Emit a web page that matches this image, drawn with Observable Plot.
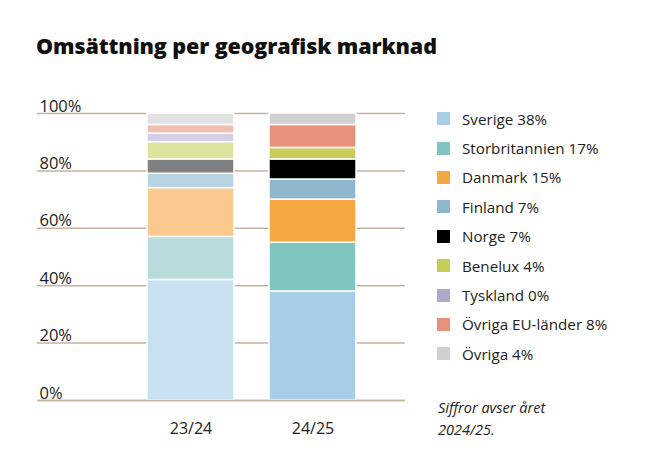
<!DOCTYPE html>
<html><head><meta charset="utf-8">
<script src="https://cdn.jsdelivr.net/npm/d3@7"></script>
<script src="https://cdn.jsdelivr.net/npm/@observablehq/plot@0.6"></script>
<style>
body{margin:0;background:#fff;font-family:"Open Sans",sans-serif;color:#222;}
#wrap{position:relative;width:667px;height:474px;overflow:hidden;}
#title{position:absolute;left:36px;top:31px;font-size:21.5px;font-weight:800;color:#111;letter-spacing:-0.1px;}
#chart{position:absolute;left:0;top:90px;}
#legend{position:absolute;left:437px;top:104px;}
.row{display:flex;align-items:center;height:29.4px;font-size:15.2px;color:#222;}
.sw{width:13px;height:13px;margin-right:12px;}
#note{position:absolute;left:438px;top:397px;font-size:14.5px;font-style:italic;line-height:22px;color:#222;}
</style></head>
<body><div id="wrap">
<div id="title">Omsättning per geografisk marknad</div>
<div id="chart"></div>
<div id="legend"></div>
<div id="note">Siffror avser året<br>2024/25.</div>
</div>
<script>
const years = ["23/24", "24/25"];
const regions = ["Sverige","Storbritannien","Danmark","Finland","Norge","Benelux","Tyskland","Övriga EU-länder","Övriga"];
const share2324 = [42, 15, 17, 5, 5, 6, 3, 3, 4];
const share2425 = [38, 17, 15, 7, 7, 4, 0, 8, 4];
const yTicks = [0, 20, 40, 60, 80, 100];

const colors2425 = ["#a8cde9","#82c5c0","#f5a742","#8db6cf","#000000","#c8cc58","#b3a6cc","#e8917a","#d0d0d0"];
const colors2324 = ["#c9e0f0","#b8dcdc","#f9c98e","#b8d4e4","#808080","#dde29d","#d6cfe6","#f2bfae","#e2e2e2"];

const rows = [];
regions.forEach((r, i) => {
  rows.push({year: years[0], region: r, value: share2324[i], color: colors2324[i]});
  rows.push({year: years[1], region: r, value: share2425[i], color: colors2425[i]});
});

const chart = Plot.plot({
  width: 667,
  height: 350,
  marginTop: 23,
  marginBottom: 40,
  marginLeft: 37,
  marginRight: 262,
  style: {fontFamily: "Open Sans, sans-serif", fontSize: "15px", color: "#222"},
  x: {domain: years, range: [111, 392], padding: 0.285, axis: null},
  y: {domain: [0, 100], axis: null},
  marks: [
    Plot.ruleY(yTicks, {stroke: "#c3b59f", strokeWidth: 1.5}),
    Plot.barY(rows, Plot.stackY({x: "year", y: "value", fill: "color", stroke: "white", strokeWidth: 1.5})),
    Plot.ruleY([0], {stroke: "#c3b59f", strokeWidth: 1.5}),
    Plot.text(yTicks, {y: d => d, text: d => d + "%", frameAnchor: "left", textAnchor: "start", lineAnchor: "bottom", dx: 2, dy: -2, fontSize: 16.5, fill: "#222"}),
    Plot.text(years, {x: d => d, text: d => d, frameAnchor: "bottom", dy: 33, fontSize: 16, fill: "#222"})
  ]
});
document.getElementById("chart").appendChild(chart);

const leg = document.getElementById("legend");
regions.forEach((r, i) => {
  const row = document.createElement("div");
  row.className = "row";
  row.innerHTML = `<div class="sw" style="background:${colors2425[i]}"></div><span>${r} ${share2425[i]}%</span>`;
  leg.appendChild(row);
});
</script>
</body></html>
